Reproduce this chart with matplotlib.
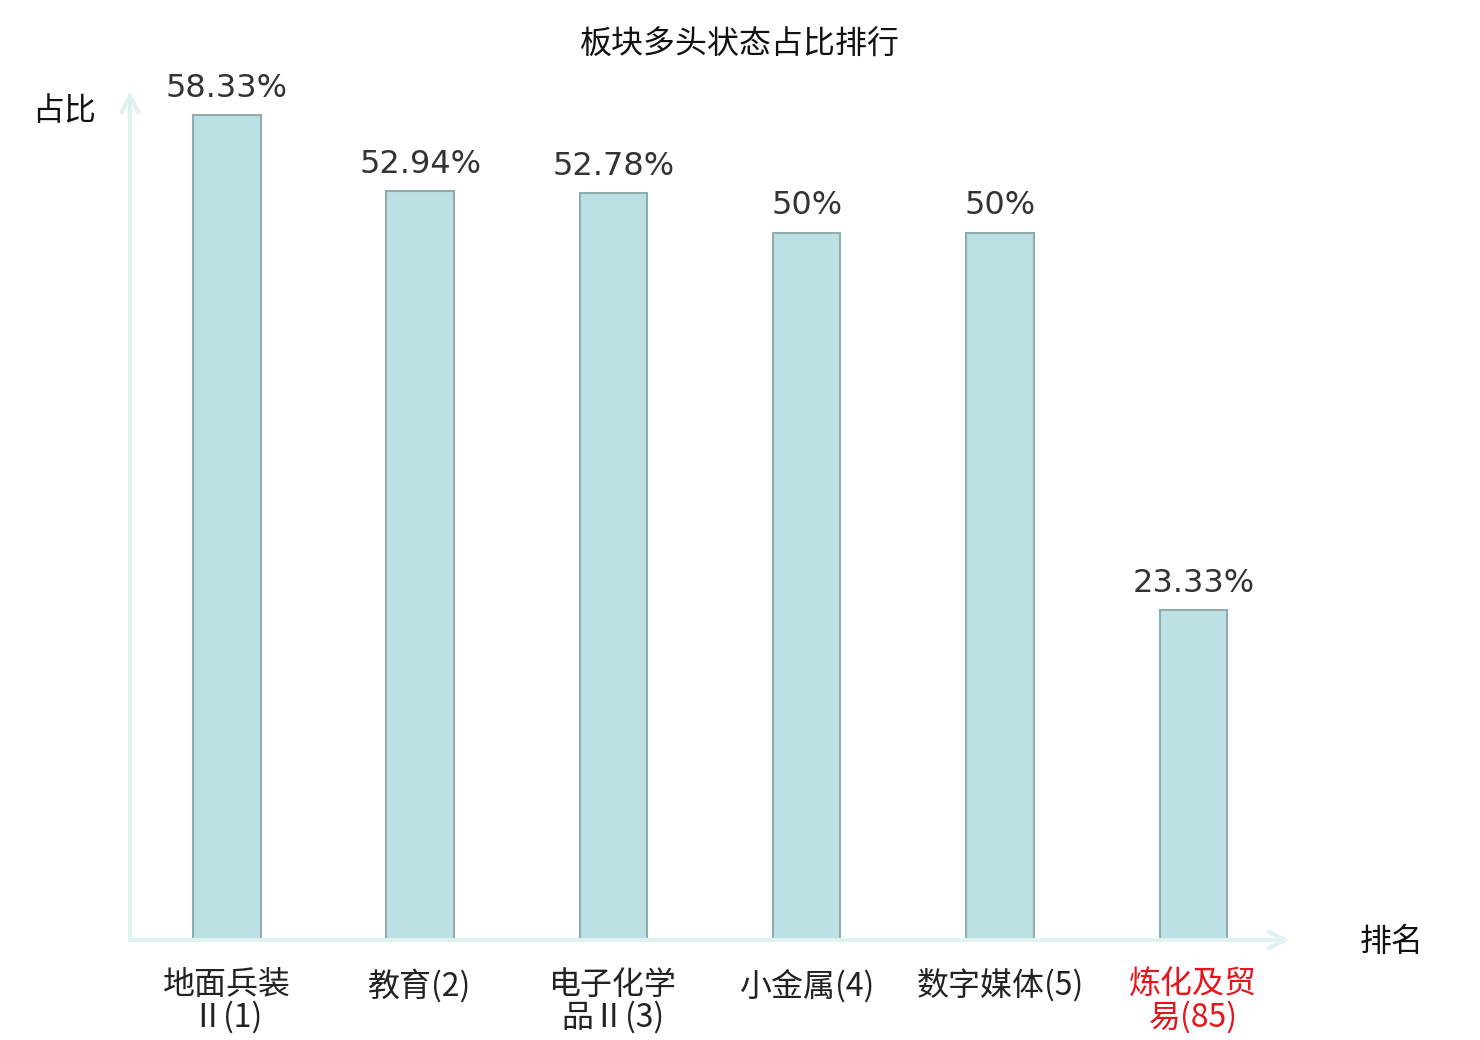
import matplotlib
matplotlib.use('Agg')
from matplotlib import pyplot
import numpy

pyplot.rcParams['font.family'] = ['Noto Sans CJK SC', 'DejaVu Sans']

categories = ['地面兵装\nⅡ(1)', '教育(2)', '电子化学\n品Ⅱ(3)', '小金属(4)', '数字媒体(5)', '炼化及贸\n易(85)']
values = [58.33, 52.94, 52.78, 50, 50, 23.33]
valueLabels = ['58.33%', '52.94%', '52.78%', '50%', '50%', '23.33%']
labelColors = ['#222222', '#222222', '#222222', '#222222', '#222222', '#e8141c']

figure = pyplot.figure(figsize=(14.8, 10.4), dpi=100)
axes = figure.add_axes([130/1480, 100/1040, 1160/1480, 849/1040])

positions = numpy.arange(len(categories))
axes.bar(positions, values, width=0.35, color='#bce0e3', edgecolor='#8fadad', linewidth=1.5, zorder=2)

for x, v, text in zip(positions, values, valueLabels):
    axes.annotate(text, (x, v), xytext=(0, 8), textcoords='offset points',
                  ha='center', va='bottom', fontsize=23, color='#333333',
                  family='DejaVu Sans')

axes.set_xlim(-0.5, 5.5)
axes.set_ylim(0, 60)
for side in axes.spines.values():
    side.set_visible(False)
axes.set_yticks([])
axes.set_xticks(positions)
axes.set_xticklabels(categories, fontsize=23, linespacing=1.0)
for tick, color in zip(axes.get_xticklabels(), labelColors):
    tick.set_color(color)
axes.tick_params(axis='x', length=0, pad=21)

arrowColor = '#dff2f0'
axes.annotate('', xy=(5.5, 0), xytext=(-0.5, 0), xycoords='data',
              arrowprops=dict(arrowstyle='->', color=arrowColor, lw=3, mutation_scale=30,
                              shrinkA=0, shrinkB=0), annotation_clip=False)
axes.annotate('', xy=(-0.5, 60), xytext=(-0.5, 0), xycoords='data',
              arrowprops=dict(arrowstyle='->', color=arrowColor, lw=3, mutation_scale=30,
                              shrinkA=0, shrinkB=0), annotation_clip=False)

figure.text(740/1480, 1 - 45/1040, '板块多头状态占比排行', ha='center', va='center', fontsize=23, color='#111111')
figure.text(64/1480, 1 - 111/1040, '占比', ha='center', va='center', fontsize=23, color='#111111')
figure.text(1392/1480, 1 - 942/1040, '排名', ha='center', va='center', fontsize=23, color='#111111')

figure.savefig('out.png', dpi=100)
